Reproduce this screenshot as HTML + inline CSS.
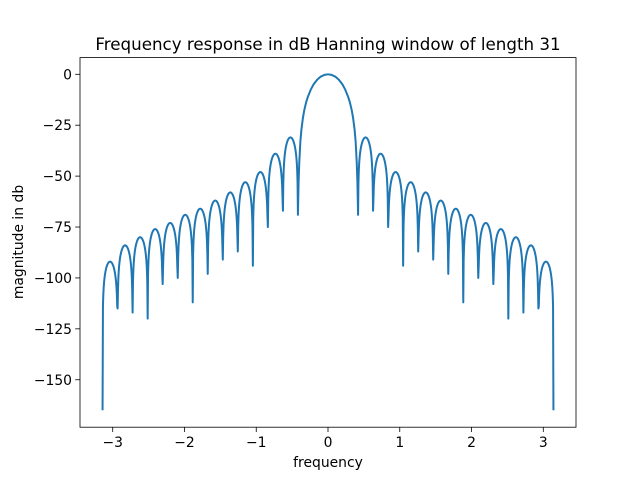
<!DOCTYPE html>
<html><head><meta charset="utf-8"><style>
body{margin:0;background:#fff}
svg text{font-family:"DejaVu Sans","Liberation Sans",sans-serif;fill:#000}
</style></head><body>
<svg id="chart" width="640" height="480" xmlns="http://www.w3.org/2000/svg">
<rect width="640" height="480" fill="#fff"/>
<text x="328" y="50" text-anchor="middle" font-size="16.7">Frequency response in dB Hanning window of length 31</text>
<g id="plot"></g>
<rect x="80" y="57.6" width="496" height="369.6" fill="none" stroke="#000" stroke-width="0.8"/>
<g id="xt"></g>
<g id="yt"></g>
<text x="328" y="467" text-anchor="middle" font-size="13.9">frequency</text>
<text transform="translate(23,242) rotate(-90)" text-anchor="middle" font-size="13.9">magnitude in db</text>
</svg>
<script>
const xTicks=[-3,-2,-1,0,1,2,3];
const yTicks=[0,-25,-50,-75,-100,-125,-150];
// right-half sidelobe nulls (frequency, dB) — mirrored for negative side
const nullX=[0.419,0.628,0.838,1.047,1.257,1.466,1.676,1.885,2.094,2.304,2.513,2.723,2.932,3.1416];
const nullDb=[-69,-67,-75,-94,-87,-91,-98,-112,-100,-103,-120,-117,-115,-165];
// sidelobe peaks between consecutive nulls
const peakDb=[-31,-39,-48,-53,-58,-62,-66,-69,-73,-76,-80,-84,-92];
// main lobe samples
const mainX=[0,0.05,0.1,0.15,0.2,0.24,0.28,0.305,0.33,0.35,0.37,0.385,0.40,0.41,0.419];
const mainDb=[0,-0.3,-1.1,-2.6,-4.9,-7.5,-11,-13.8,-17.5,-21.5,-27,-33,-43,-53,-69];

const X0=-3.456,X1=3.456,Y0=-173.3,Y1=8.2;
const px=v=>80+(v-X0)/(X1-X0)*496;
const py=v=>57.6+(Y1-v)/(Y1-Y0)*369.6;
const NS="http://www.w3.org/2000/svg";
function mk(t,a,p){const e=document.createElementNS(NS,t);for(const k in a)e.setAttribute(k,a[k]);p.appendChild(e);return e;}

let right=[];
for(let i=0;i<mainX.length;i++)right.push([mainX[i],mainDb[i]]);
for(let i=0;i<peakDb.length;i++){
  const a=nullX[i],b=nullX[i+1],N=40;
  for(let j=1;j<=N;j++){
    const t=j/N;const x=a+(b-a)*t;
    let y=peakDb[i]+20*Math.log10(Math.max(Math.sin(Math.PI*t),1e-9));
    const lim=t<0.5?nullDb[i]:nullDb[i+1];
    if(y<lim||j===N)y=lim;
    right.push([x,y]);
  }
}
let pts=right.slice().reverse().map(p=>[-p[0],p[1]]).concat(right.slice(1));
const g=document.getElementById('plot');
const line=mk('path',{d:pts.map((p,i)=>(i?'L':'M')+px(p[0]).toFixed(2)+','+py(p[1]).toFixed(2)).join(''),fill:'none',stroke:'#1f77b4','stroke-width':2,'stroke-linejoin':'round'},g);



const xt=document.getElementById('xt');
xTicks.forEach(v=>{
  const x=px(v);
  const l=mk('line',{x1:x,x2:x,y1:427.2,y2:432,stroke:'#000','stroke-width':0.8},xt);
  
  
  const t=mk('text',{x:x,y:447,'text-anchor':'middle','font-size':13.9},xt);
  t.textContent=String(v).replace('-','\u2212');
  
  
});
const yt=document.getElementById('yt');
yTicks.forEach(v=>{
  const y=py(v);
  const l=mk('line',{x1:75.2,x2:80,y1:y,y2:y,stroke:'#000','stroke-width':0.8},yt);
  
  
  const t=mk('text',{x:72,y:y+5,'text-anchor':'end','font-size':13.9},yt);
  t.textContent=String(v).replace('-','\u2212');
  
  
});
</script>
</body></html>
